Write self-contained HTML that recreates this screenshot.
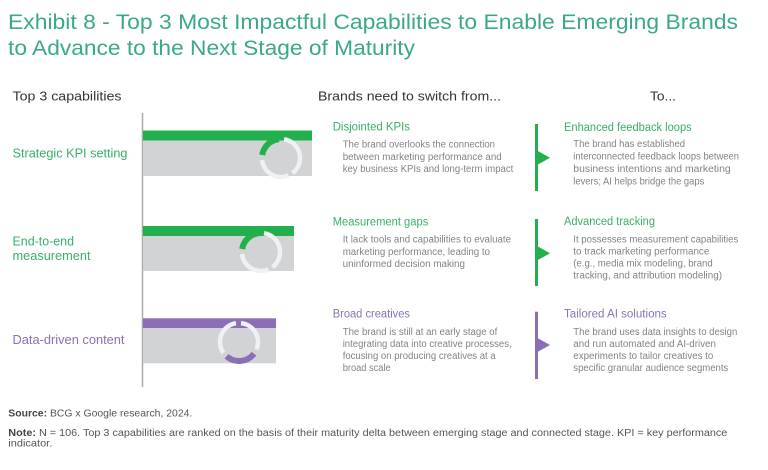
<!DOCTYPE html>
<html><head><meta charset="utf-8"><style>
html,body{margin:0;padding:0;background:#fff;}
svg{display:block;font-family:"Liberation Sans",sans-serif;}
</style></head><body>
<svg width="768" height="470" viewBox="0 0 768 470" xmlns="http://www.w3.org/2000/svg">
<rect width="768" height="470" fill="#fff"/>
<!-- title -->
<g fill="#3aa98b" font-size="21">
<text x="8" y="29" textLength="730" lengthAdjust="spacingAndGlyphs">Exhibit 8 - Top 3 Most Impactful Capabilities to Enable Emerging Brands</text>
<text x="8" y="55" textLength="407" lengthAdjust="spacingAndGlyphs">to Advance to the Next Stage of Maturity</text>
</g>
<!-- column headers -->
<g fill="#333" font-size="13">
<text x="12.5" y="100.5" textLength="109" lengthAdjust="spacingAndGlyphs">Top 3 capabilities</text>
<text x="318" y="100.5" textLength="183" lengthAdjust="spacingAndGlyphs">Brands need to switch from...</text>
<text x="650" y="100.5" textLength="26" lengthAdjust="spacingAndGlyphs">To...</text>
</g>
<!-- left labels -->
<g font-size="12.5">
<text x="12.5" y="157.5" fill="#38b067" textLength="115" lengthAdjust="spacingAndGlyphs">Strategic KPI setting</text>
<text x="12.5" y="245.5" fill="#38b067" textLength="61.5" lengthAdjust="spacingAndGlyphs">End-to-end</text>
<text x="12.5" y="260" fill="#38b067" textLength="78" lengthAdjust="spacingAndGlyphs">measurement</text>
<text x="12.5" y="344" fill="#8a72b5" textLength="112" lengthAdjust="spacingAndGlyphs">Data-driven content</text>
</g>
<!-- axis -->
<line x1="142.5" y1="113" x2="142.5" y2="387" stroke="#a9a9a9" stroke-width="1.5"/>
<!-- bars -->
<rect x="143" y="130.5" width="169" height="10" fill="#22b04e"/>
<rect x="143" y="140.5" width="169" height="35.5" fill="#d2d3d5"/>
<rect x="143" y="226" width="151" height="10" fill="#22b04e"/>
<rect x="143" y="236" width="151" height="35" fill="#d2d3d5"/>
<rect x="143" y="318.3" width="133" height="9.7" fill="#8b6fb6"/>
<rect x="143" y="328" width="133" height="35.3" fill="#d2d3d5"/>
<!-- ring icons -->
<g fill="none" stroke-width="4.5" stroke-linecap="butt">
<g transform="translate(281,158)">
<path d="M -18.8 -3 A 19 19 0 0 1 -2 -18.9" stroke="#22b04e" stroke-width="6"/>
<path d="M 3 -18.8 A 19 19 0 0 1 11.5 15.1" stroke="#eef1f6"/>
<path d="M 7.5 17.4 A 19 19 0 0 1 -18.9 2" stroke="#eef1f6"/>
</g>
<g transform="translate(261,252)">
<path d="M -18.8 -3 A 19 19 0 0 1 -2 -18.9" stroke="#22b04e" stroke-width="6"/>
<path d="M 3 -18.8 A 19 19 0 0 1 11.5 15.1" stroke="#eef1f6"/>
<path d="M 7.5 17.4 A 19 19 0 0 1 -18.9 2" stroke="#eef1f6"/>
</g>
<g transform="translate(239,342)">
<path d="M 15 11.7 A 19 19 0 0 1 -12.5 14.3" stroke="#8b6fb6" stroke-width="6"/>
<path d="M -15.5 11 A 19 19 0 0 1 -3 -18.8" stroke="#eef1f6"/>
<path d="M 2 -18.9 A 19 19 0 0 1 17.5 7.4" stroke="#eef1f6"/>
</g>
</g>
<!-- markers -->
<rect x="535" y="124" width="3" height="67" fill="#22b04e"/>
<polygon points="537,150.5 550,157.7 537,165" fill="#22b04e"/>
<rect x="535" y="219" width="3" height="67" fill="#22b04e"/>
<polygon points="537,246 550,253.3 537,260.5" fill="#22b04e"/>
<rect x="535" y="311.7" width="3" height="67.3" fill="#8b6fb6"/>
<polygon points="537,337.8 550,345 537,352.2" fill="#8b6fb6"/>
<!-- headings -->
<g font-size="11.5">
<text x="332.7" y="130.7" fill="#38b067" textLength="77.3" lengthAdjust="spacingAndGlyphs">Disjointed KPIs</text>
<text x="564" y="131" fill="#38b067" textLength="127.7" lengthAdjust="spacingAndGlyphs">Enhanced feedback loops</text>
<text x="332.7" y="225.7" fill="#38b067" textLength="95.6" lengthAdjust="spacingAndGlyphs">Measurement gaps</text>
<text x="564" y="225" fill="#38b067" textLength="91" lengthAdjust="spacingAndGlyphs">Advanced tracking</text>
<text x="332.7" y="317.7" fill="#8a72b5" textLength="77.3" lengthAdjust="spacingAndGlyphs">Broad creatives</text>
<text x="564" y="317.3" fill="#8a72b5" textLength="102.7" lengthAdjust="spacingAndGlyphs">Tailored AI solutions</text>
</g>
<!-- body text -->
<g font-size="9.8" fill="#838383">
<text x="342.7" y="147.3" textLength="152.3" lengthAdjust="spacingAndGlyphs">The brand overlooks the connection</text>
<text x="342.7" y="159.8" textLength="159" lengthAdjust="spacingAndGlyphs">between marketing performance and</text>
<text x="342.7" y="172.2" textLength="170.6" lengthAdjust="spacingAndGlyphs">key business KPIs and long-term impact</text>

<text x="573.3" y="147" textLength="111.7" lengthAdjust="spacingAndGlyphs">The brand has established</text>
<text x="573.3" y="159.5" textLength="165.7" lengthAdjust="spacingAndGlyphs">interconnected feedback loops between</text>
<text x="573.3" y="172" textLength="157.4" lengthAdjust="spacingAndGlyphs">business intentions and marketing</text>
<text x="573.3" y="184.3" textLength="131" lengthAdjust="spacingAndGlyphs">levers; AI helps bridge the gaps</text>

<text x="342.7" y="242.5" textLength="168.3" lengthAdjust="spacingAndGlyphs">It lack tools and capabilities to evaluate</text>
<text x="342.7" y="254.8" textLength="147.3" lengthAdjust="spacingAndGlyphs">marketing performance, leading to</text>
<text x="342.7" y="267" textLength="122.3" lengthAdjust="spacingAndGlyphs">uninformed decision making</text>

<text x="573.3" y="242.3" textLength="165" lengthAdjust="spacingAndGlyphs">It possesses measurement capabilities</text>
<text x="573.3" y="254.5" textLength="136" lengthAdjust="spacingAndGlyphs">to track marketing performance</text>
<text x="573.3" y="266.7" textLength="139.4" lengthAdjust="spacingAndGlyphs">(e.g., media mix modeling, brand</text>
<text x="573.3" y="278.5" textLength="148.7" lengthAdjust="spacingAndGlyphs">tracking, and attribution modeling)</text>

<text x="342.7" y="334.8" textLength="154.6" lengthAdjust="spacingAndGlyphs">The brand is still at an early stage of</text>
<text x="342.7" y="347" textLength="169" lengthAdjust="spacingAndGlyphs">integrating data into creative processes,</text>
<text x="342.7" y="359" textLength="153" lengthAdjust="spacingAndGlyphs">focusing on producing creatives at a</text>
<text x="342.7" y="371" textLength="48" lengthAdjust="spacingAndGlyphs">broad scale</text>

<text x="573.3" y="334.8" textLength="164" lengthAdjust="spacingAndGlyphs">The brand uses data insights to design</text>
<text x="573.3" y="347" textLength="142.7" lengthAdjust="spacingAndGlyphs">and run automated and AI-driven</text>
<text x="573.3" y="359" textLength="140" lengthAdjust="spacingAndGlyphs">experiments to tailor creatives to</text>
<text x="573.3" y="371" textLength="155" lengthAdjust="spacingAndGlyphs">specific granular audience segments</text>
</g>
<!-- footer -->
<g font-size="9.8" fill="#555">
<text x="8.3" y="416.7" textLength="184" lengthAdjust="spacingAndGlyphs"><tspan font-weight="bold" fill="#444">Source:</tspan> BCG x Google research, 2024.</text>
<text x="8.3" y="436" textLength="719" lengthAdjust="spacingAndGlyphs"><tspan font-weight="bold" fill="#444">Note:</tspan> N = 106. Top 3 capabilities are ranked on the basis of their maturity delta between emerging stage and connected stage. KPI = key performance</text>
<text x="8.3" y="446.5" textLength="44" lengthAdjust="spacingAndGlyphs">indicator.</text>
</g>
</svg>
</body></html>
